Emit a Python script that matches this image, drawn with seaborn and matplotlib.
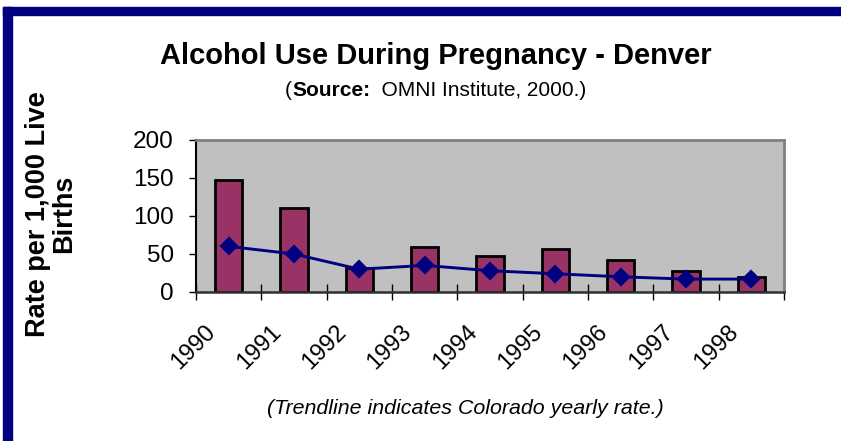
import numpy as np
import pandas as pd
import seaborn as sns
import matplotlib.pyplot as plt
import matplotlib.transforms as mtransforms
from matplotlib.patches import Rectangle

YEARS = ['1990', '1991', '1992', '1993', '1994', '1995', '1996', '1997', '1998']
DENVER = [147, 111, 31, 59, 47, 57, 42, 27, 20]
COLORADO = [60, 50, 30, 35, 28, 24, 20, 17, 17]
Y_TICKS = [0, 50, 100, 150, 200]

sns.set_theme(style='white')
plt.rcParams['font.family'] = ['Liberation Sans', 'DejaVu Sans']
plt.rcParams['text.color'] = 'black'
plt.rcParams['xtick.color'] = 'black'
plt.rcParams['ytick.color'] = 'black'

df = pd.DataFrame({'year': YEARS, 'denver': DENVER, 'colorado': COLORADO})

W, H = 841, 441
fig = plt.figure(figsize=(W / 100, H / 100), dpi=100)
ax = fig.add_axes([196 / W, 1 - 292 / H, (784 - 196) / W, (292 - 140) / H])
ax.set_facecolor('#C0C0C0')

sns.barplot(data=df, x='year', y='denver', color='#993366', width=0.42,
            edgecolor='black', linewidth=2, saturation=1, ax=ax)
sns.pointplot(data=df, x='year', y='colorado', color='#000080', markers='D',
              markersize=8.5, linewidth=2.1, ax=ax)

ax.set_ylim(0, 200)
ax.set_xlim(-0.5, len(YEARS) - 0.5)
ax.set_yticks(Y_TICKS)
ax.set_yticklabels([str(t) for t in Y_TICKS], fontsize=17.5)
ax.tick_params(axis='y', direction='out', length=5, width=1, color='black',
               pad=11, left=True)
ax.set_xticks(np.arange(len(YEARS)))
ax.set_xticklabels(YEARS, fontsize=17, rotation=45, ha='right',
                   rotation_mode='anchor')
ax.tick_params(axis='x', which='major', length=0, pad=22)
ax.set_xticks(np.arange(len(YEARS) + 1) - 0.5, minor=True)
ax.tick_params(axis='x', which='minor', direction='inout', length=11,
               width=1, color='black', bottom=True)
offset = mtransforms.ScaledTranslation(-24 / 100, 2 / 100, fig.dpi_scale_trans)
for lbl in ax.get_xticklabels():
    lbl.set_transform(lbl.get_transform() + offset)

ax.set_xlabel('')
ax.set_ylabel('')
for side in ['top', 'right']:
    ax.spines[side].set_color('#808080')
    ax.spines[side].set_linewidth(2)
ax.spines['left'].set_color('black')
ax.spines['left'].set_linewidth(1.5)
ax.spines['bottom'].set_color('#303030')
ax.spines['bottom'].set_linewidth(1.8)

# frame of the original slide
fig.patches.append(Rectangle((3 / W, 0), 9 / W, 1 - 7 / H, transform=fig.transFigure,
                             color='#000080', zorder=0))
fig.patches.append(Rectangle((3 / W, 1 - 15 / H), 1, 8 / H, transform=fig.transFigure,
                             color='#000080', zorder=0))

fig.text(436 / W, 1 - 56 / H, 'Alcohol Use During Pregnancy - Denver',
         ha='center', va='center', fontsize=21, fontweight='bold')

# subtitle with a bold word inside
sub_y = 1 - 91 / H
t1 = fig.text(285 / W, sub_y, '(', ha='left', va='center', fontsize=15)
fig.canvas.draw()
r = fig.canvas.get_renderer()
t2 = fig.text(t1.get_window_extent(r).x1 / W, sub_y, 'Source:', ha='left',
              va='center', fontsize=15, fontweight='bold')
fig.canvas.draw()
fig.text(t2.get_window_extent(r).x1 / W, sub_y, '  OMNI Institute, 2000.)',
         ha='left', va='center', fontsize=15)

fig.text(51 / W, 1 - 214 / H, 'Rate per 1,000 Live\nBirths', rotation=90,
         ha='center', va='center', fontsize=19.5, fontweight='bold',
         multialignment='center', linespacing=1.0)

fig.text(465 / W, 1 - 409 / H, '(Trendline indicates Colorado yearly rate.)',
         ha='center', va='center', fontsize=15.4, fontstyle='italic')

fig.savefig('out.png', dpi=100)
